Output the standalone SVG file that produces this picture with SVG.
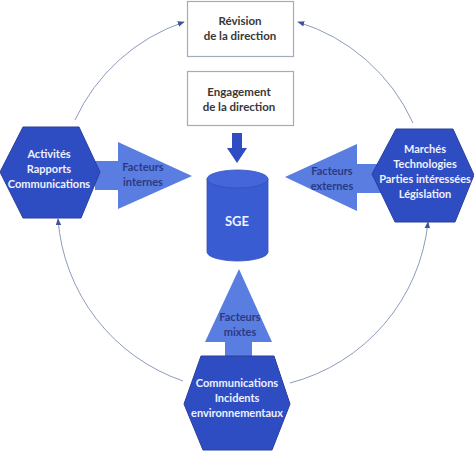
<svg xmlns="http://www.w3.org/2000/svg" width="474" height="451" viewBox="0 0 474 451">
<style>
.hex{fill:#2f4dc2;stroke:#2a3f9c;stroke-width:1}
.arw{fill:#5a7de2}
.box{fill:#ffffff;stroke:#a4abbb;stroke-width:1.2}
.cyl{fill:#3a5cd2;stroke:#3250b8;stroke-width:0.8}
.cyltop{fill:#4466da;stroke:#3250b8;stroke-width:0.8}
.cyc{fill:none;stroke:#8d9bbb;stroke-width:1}
.t{font-family:Lato,"Open Sans",sans-serif;font-weight:700;font-size:11px;text-anchor:middle}
.ht{fill:#eef1ff}
.at{fill:#2a3a82}
.bt{fill:#383838;font-size:11.5px}
</style>
<defs>
<marker id="ah" viewBox="0 0 10 10" refX="9" refY="5" markerWidth="7" markerHeight="7" markerUnits="userSpaceOnUse" orient="auto">
<path d="M0,1 L10,5 L0,9 z" fill="#3d5599"/>
</marker>
</defs>
<rect width="474" height="451" fill="#ffffff"/>
<g id="connectors">
<path class="cyc" d="M75,120 A186,186 0 0,1 184,22" marker-end="url(#ah)"/>
<path class="cyc" d="M413,123 A186,186 0 0,0 298,22" marker-end="url(#ah)"/>
<path class="cyc" d="M183,381 A186,186 0 0,1 58,219" marker-end="url(#ah)"/>
<path class="cyc" d="M290,383 A186,186 0 0,0 428,222" marker-end="url(#ah)"/>
<polygon fill="#2f4dc2" points="232,133 242,133 242,148 247,148 237,163 227,148 232,148"/>
</g>
<g id="revision">
<rect class="box" x="187.5" y="1.5" width="106" height="55"/>
<text class="t bt" x="240" y="25">Révision</text>
<text class="t bt" x="240" y="40">de la direction</text>
</g>
<g id="engagement">
<rect class="box" x="187.5" y="71.5" width="106" height="54"/>
<text class="t bt" x="239" y="96">Engagement</text>
<text class="t bt" x="239" y="111">de la direction</text>
</g>
<g id="sge">
<path class="cyl" d="M207,179 L207,252 A30.5,9 0 0,0 268,252 L268,179 Z"/>
<ellipse class="cyltop" cx="237.5" cy="179" rx="30.5" ry="9"/>
<text class="t ht" x="237" y="226" style="font-size:13px">SGE</text>
</g>
<g id="facteurs-internes">
<polygon class="arw" points="95,161 118,161 118,142 192,176 118,209 118,190 95,190"/>
<text class="t at" x="143" y="171">Facteurs</text>
<text class="t at" x="143" y="186">internes</text>
</g>
<g id="facteurs-externes">
<polygon class="arw" points="285,177 357,144 357,164 385,164 385,193 357,193 357,211"/>
<text class="t at" x="332" y="175">Facteurs</text>
<text class="t at" x="332" y="190">externes</text>
</g>
<g id="facteurs-mixtes">
<polygon class="arw" points="239,269 272,342 252,342 252,360 225,360 225,342 205,342"/>
<text class="t at" x="240" y="321">Facteurs</text>
<text class="t at" x="240" y="336">mixtes</text>
</g>
<g id="internes-hex">
<polygon class="hex" points="0,172 23,127 79,127 100,172 81,218 23,218"/>
<text class="t ht" x="49" y="158">Activités</text>
<text class="t ht" x="49" y="173">Rapports</text>
<text class="t ht" x="49" y="188">Communications</text>
</g>
<g id="externes-hex">
<polygon class="hex" points="372,174 396,129 453,129 474,175 455,222 395,222"/>
<text class="t ht" x="425" y="153">Marchés</text>
<text class="t ht" x="425" y="168">Technologies</text>
<text class="t ht" x="425" y="183">Parties intéressées</text>
<text class="t ht" x="425" y="198">Législation</text>
</g>
<g id="mixtes-hex">
<polygon class="hex" points="184,404 201,356 274,356 290,404 272,450 203,450"/>
<text class="t ht" x="237" y="387">Communications</text>
<text class="t ht" x="237" y="402">Incidents</text>
<text class="t ht" x="237" y="417">environnementaux</text>
</g>
</svg>
